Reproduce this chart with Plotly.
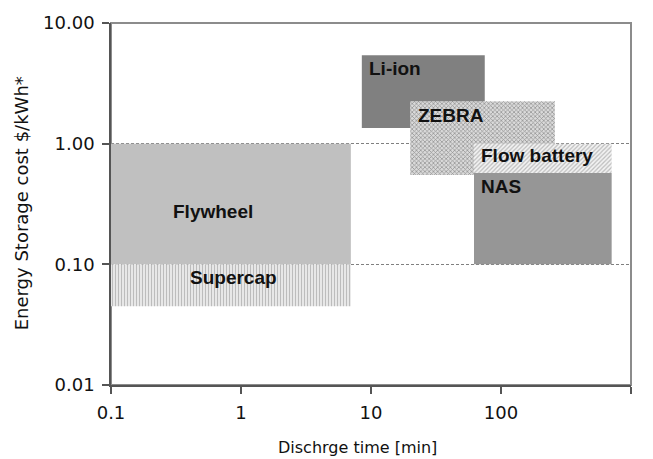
import numpy as np
import plotly.graph_objects as go

# Storage technologies: discharge-time span (min) and cost span ($/kWh)
techs = ["Flywheel", "Supercap", "Li-ion", "ZEBRA", "Flow battery", "NAS"]
t_min = [0.1, 0.1, 8.5, 20, 62, 62]
t_max = [7, 7, 75, 260, 710, 710]
cost_min = [0.1, 0.045, 1.35, 0.55, 0.57, 0.1]
cost_max = [1.0, 0.1, 5.4, 2.25, 1.0, 0.57]

x_ticks = [0.1, 1, 10, 100, 1000]
x_tick_text = ["0.1", "1", "10", "100", "1000"]
y_ticks = [0.01, 0.1, 1, 10]
y_tick_text = ["0.01", "0.10", "1.00", "10.00"]

# Fill style per technology
styles = {
    "Flywheel": dict(fillcolor="#c0c0c0"),
    "Supercap": dict(fillcolor="#dcdcdc",
                     fillpattern=dict(shape="|", size=3, solidity=0.4,
                                      fgcolor="#bcbcbc", bgcolor="#ececec",
                                      fillmode="replace")),
    "Li-ion": dict(fillcolor="#808080"),
    "ZEBRA": dict(fillcolor="#c4c4c4",
                  fillpattern=dict(shape="x", size=3, solidity=0.4,
                                   fgcolor="#8e8e8e", bgcolor="#dadada",
                                   fillmode="replace")),
    "Flow battery": dict(fillcolor="#e0e0e0",
                         fillpattern=dict(shape="/", size=3, solidity=0.4,
                                          fgcolor="#bcbcbc", bgcolor="#f3f3f3",
                                          fillmode="replace")),
    "NAS": dict(fillcolor="#969696"),
}

fig = go.Figure()
for name, x0, x1, y0, y1 in zip(techs, t_min, t_max, cost_min, cost_max):
    fig.add_trace(go.Scatter(
        x=[x0, x1, x1, x0, x0],
        y=[y0, y0, y1, y1, y0],
        mode="lines",
        fill="toself",
        line=dict(width=0, color="rgba(0,0,0,0)"),
        name=name,
        hoverinfo="name",
        showlegend=False,
        **styles[name],
    ))

# Text labels inside the blocks (log10 coordinates on both axes)
label_pos = {
    "Li-ion": (0.969, 0.62, "left"),
    "ZEBRA": (1.344, 0.235, "left"),
    "Flow battery": (1.833, -0.10, "left"),
    "NAS": (1.833, -0.359, "left"),
    "Flywheel": (-0.541, -0.558, "left"),
    "Supercap": (-0.054, -1.11, "center"),
}
for name in techs:
    lx, ly, anchor = label_pos[name]
    fig.add_annotation(
        x=lx, y=ly, xref="x", yref="y", text=f"<b>{name}</b>",
        showarrow=False, xanchor=anchor, yanchor="middle",
        font=dict(family="Liberation Sans, Arial, sans-serif", size=19, color="#111111"),
    )

# Axis titles
fig.add_annotation(
    x=0.474, y=-0.172, xref="paper", yref="paper", text="Dischrge time [min]",
    showarrow=False, xanchor="center", yanchor="middle",
    font=dict(family="DejaVu Sans, sans-serif", size=16, color="#111111"),
)
fig.add_annotation(
    x=-0.173, y=0.502, xref="paper", yref="paper", text="Energy Storage cost $/kWh*",
    showarrow=False, xanchor="center", yanchor="middle", textangle=-90,
    font=dict(family="DejaVu Sans, sans-serif", size=18, color="#111111"),
)

# Plot-area frame
fig.add_shape(type="rect", xref="paper", yref="paper", x0=0, x1=1, y0=0, y1=1,
              line=dict(color="#8c8c8c", width=2), layer="below")

tick_font = dict(family="DejaVu Sans, sans-serif", size=18, color="#111111")
fig.update_xaxes(
    type="log", range=[-1, 3],
    tickvals=x_ticks, ticktext=x_tick_text,
    ticks="outside", ticklen=7, tickwidth=1.5, tickcolor="#555555",
    showline=True, linecolor="#555555", linewidth=1.5,
    showgrid=False, zeroline=False,
    tickfont=tick_font, ticklabelstandoff=4,
)
fig.update_yaxes(
    type="log", range=[-2, 1],
    tickvals=y_ticks, ticktext=y_tick_text,
    ticks="outside", ticklen=7, tickwidth=1.5, tickcolor="#555555",
    showline=True, linecolor="#555555", linewidth=1.5,
    showgrid=True, gridcolor="#808080", gridwidth=1, griddash="3px,2px",
    zeroline=False,
    tickfont=tick_font, ticklabelstandoff=4,
)

fig.update_layout(
    width=653, height=459,
    margin=dict(l=111, r=22, t=23, b=74),
    paper_bgcolor="white", plot_bgcolor="white",
    font=dict(family="Liberation Sans, Arial, sans-serif"),
)

fig.write_html("out.html")
